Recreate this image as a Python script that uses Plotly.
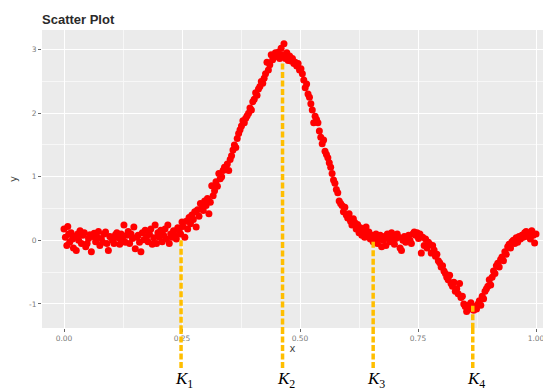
import plotly.graph_objects as go

# ---- data ----
x_vals = [
    0.000, 0.003, 0.006, 0.008, 0.010, 0.012, 0.015, 0.018, 0.020, 0.023,
    0.026, 0.029, 0.031, 0.034, 0.037, 0.040, 0.043, 0.046, 0.049, 0.052,
    0.055, 0.058, 0.061, 0.064, 0.067, 0.070, 0.073, 0.076, 0.079, 0.082,
    0.085, 0.088, 0.091, 0.094, 0.097, 0.100, 0.103, 0.106, 0.109, 0.112,
    0.115, 0.118, 0.121, 0.124, 0.127, 0.130, 0.133, 0.136, 0.139, 0.142,
    0.145, 0.148, 0.151, 0.154, 0.157, 0.160, 0.163, 0.166, 0.169, 0.172,
    0.175, 0.178, 0.181, 0.184, 0.187, 0.190, 0.193, 0.196, 0.199, 0.202,
    0.205, 0.208, 0.211, 0.214, 0.217, 0.220, 0.223, 0.226, 0.229, 0.232,
    0.235, 0.238, 0.241, 0.244, 0.247, 0.250,
    0.252, 0.256, 0.259, 0.262, 0.265, 0.268, 0.271, 0.274, 0.277, 0.280,
    0.283, 0.286, 0.289, 0.292, 0.295, 0.298, 0.301, 0.304, 0.307, 0.310,
    0.313, 0.316, 0.319, 0.322, 0.325, 0.328, 0.331, 0.334, 0.337, 0.340,
    0.343, 0.346, 0.349, 0.352, 0.355, 0.358, 0.361, 0.364, 0.367, 0.370,
    0.373, 0.376, 0.379, 0.382, 0.385, 0.388, 0.391, 0.394, 0.397, 0.400,
    0.403, 0.406, 0.409, 0.412, 0.415, 0.418, 0.421, 0.424, 0.427, 0.430,
    0.433, 0.436, 0.439, 0.442, 0.445, 0.448, 0.451, 0.454, 0.457, 0.460,
    0.463, 0.466, 0.469, 0.472, 0.475, 0.478, 0.481, 0.484, 0.487, 0.490,
    0.493, 0.496, 0.499, 0.502, 0.505, 0.508, 0.511, 0.514, 0.517, 0.520,
    0.523, 0.526, 0.529, 0.532, 0.535, 0.538, 0.541, 0.544, 0.547, 0.550,
    0.553, 0.556, 0.559, 0.562, 0.565, 0.568, 0.571, 0.574, 0.577, 0.580,
    0.583, 0.586, 0.589, 0.592, 0.595, 0.598, 0.601, 0.604, 0.607, 0.610,
    0.613, 0.616, 0.619, 0.622, 0.625, 0.628, 0.631, 0.634, 0.637, 0.640,
    0.643, 0.646, 0.649, 0.652, 0.655, 0.658,
    0.661, 0.664, 0.667, 0.670, 0.673, 0.676, 0.679, 0.682, 0.685, 0.688,
    0.691, 0.694, 0.697, 0.700, 0.703, 0.706, 0.709, 0.712, 0.715, 0.718,
    0.721, 0.724, 0.727, 0.730, 0.733, 0.736, 0.739, 0.742, 0.745, 0.748,
    0.751, 0.754, 0.757, 0.760, 0.763, 0.766, 0.769, 0.772, 0.775, 0.778,
    0.781, 0.784, 0.787, 0.790, 0.793, 0.796, 0.799, 0.802, 0.805, 0.808,
    0.811, 0.814, 0.817, 0.820, 0.823, 0.826, 0.829, 0.832, 0.835, 0.838,
    0.841, 0.844, 0.847, 0.850, 0.853, 0.856, 0.859, 0.862, 0.865, 0.868,
    0.871, 0.874, 0.877, 0.880, 0.883, 0.886, 0.889, 0.892, 0.895, 0.898,
    0.901, 0.904, 0.907, 0.910, 0.913, 0.916, 0.919, 0.922, 0.925, 0.928,
    0.931, 0.934, 0.937, 0.940, 0.943, 0.946, 0.949, 0.952, 0.955, 0.958,
    0.961, 0.964, 0.967, 0.970, 0.973, 0.976, 0.979, 0.982, 0.985, 0.988,
    0.991, 0.994, 0.997, 1.000,
]
y_vals = [
    0.18, 0.05, -0.08, 0.22, 0.10, -0.03, 0.12, 0.02, -0.12, 0.06,
    -0.16, 0.10, 0.00, 0.15, -0.05, 0.08, 0.12, -0.10, -0.05, 0.03,
    0.09, -0.18, 0.06, 0.11, -0.02, 0.05, 0.14, -0.08, 0.03, -0.03,
    0.10, 0.13, -0.05, -0.16, 0.06, 0.05, 0.00, -0.05, 0.09, 0.12,
    0.04, -0.06, 0.10, 0.02, 0.24, -0.03, 0.08, 0.14, -0.05, 0.10,
    0.03, 0.21, -0.13, 0.05, 0.08, -0.03, -0.18, 0.12, 0.01, 0.16,
    0.06, -0.02, 0.10, 0.18, -0.06, 0.04, 0.24, -0.05, 0.12, 0.05,
    0.16, -0.02, 0.08, 0.18, 0.02, 0.24, -0.05, 0.10, 0.05, 0.15,
    0.08, 0.02, 0.20, 0.16, 0.10, 0.29,
    0.22, 0.05, 0.30, 0.18, 0.36, 0.26, 0.40, 0.33, 0.45, 0.21,
    0.48, 0.38, 0.58, 0.50, 0.47, 0.62, 0.55, 0.66, 0.42, 0.60,
    0.86, 0.70, 0.78, 0.92, 0.85, 1.05, 0.97, 1.00, 1.10, 1.15,
    1.12, 1.20, 1.10, 1.27, 1.33, 1.42, 1.50, 1.46, 1.60, 1.68,
    1.74, 1.80, 1.88, 1.85, 1.92, 1.96, 2.00, 2.08, 2.05, 2.18,
    2.22, 2.32, 2.28, 2.38, 2.42, 2.50, 2.47, 2.55, 2.62, 2.80,
    2.68, 2.76, 2.92, 2.84, 2.88, 2.95, 2.90, 2.96, 2.86, 3.02,
    2.92, 3.09, 2.86, 2.95, 2.83, 2.90, 2.82, 2.86, 2.78, 2.80,
    2.74, 2.78, 2.68, 2.70, 2.62, 2.52, 2.40, 2.46, 2.30, 2.25,
    2.15, 2.05, 1.85, 1.95, 1.90, 1.85, 1.72, 1.62, 1.52, 1.58,
    1.40, 1.35, 1.30, 1.22, 1.15, 1.05, 0.95, 0.90, 0.80, 0.75,
    0.62, 0.58, 0.55, 0.45, 0.52, 0.40, 0.35, 0.42, 0.30, 0.24,
    0.34, 0.28, 0.18, 0.25, 0.12, 0.20, 0.08, 0.15, 0.05, 0.21,
    0.10, 0.13, 0.02, 0.08, -0.02, 0.05,
    0.10, -0.05, 0.02, 0.08, -0.10, 0.00, 0.06, -0.08, 0.10, 0.02,
    -0.02, 0.12, 0.05, -0.06, 0.03, 0.10, 0.05, -0.12, -0.16, 0.00,
    0.06, -0.03, 0.04, 0.08, 0.00, -0.05, 0.10, 0.13, 0.08, 0.12,
    0.03, 0.10, -0.20, 0.05, -0.08, 0.02, -0.12, -0.03, -0.06, -0.20,
    -0.08, -0.15, -0.25, -0.22, -0.32, -0.35, -0.42, -0.40, -0.48, -0.52,
    -0.58, -0.62, -0.55, -0.68, -0.72, -0.66, -0.80, -0.76, -0.84, -0.68,
    -0.90, -0.88, -1.00, -1.04, -1.12, -1.02, -1.08, -0.98, -1.06, -1.10,
    -1.04, -1.08, -1.00, -0.95, -1.02, -0.88, -0.92, -0.80, -0.76, -0.72,
    -0.62, -0.70, -0.58, -0.48, -0.52, -0.40, -0.36, -0.42, -0.30, -0.26,
    -0.32, -0.18, -0.22, -0.10, -0.06, -0.12, -0.02, 0.00, -0.05, 0.04,
    -0.03, 0.06, 0.02, 0.08, 0.05, 0.12, 0.14, 0.06, 0.10, 0.02,
    0.15, 0.08, -0.04, 0.10,
]

knot_x = [0.248, 0.463, 0.655, 0.866]
knot_top = [0.0, 2.78, -0.02, -1.03]
knot_labels = ["<i>K</i><sub>1</sub>", "<i>K</i><sub>2</sub>",
               "<i>K</i><sub>3</sub>", "<i>K</i><sub>4</sub>"]

x_ticks = [0.0, 0.25, 0.5, 0.75, 1.0]
x_tick_text = ["0.00", "0.25", "0.50", "0.75", "1.00"]
y_ticks = [-1, 0, 1, 2, 3]
y_tick_text = ["-1", "0", "1", "2", "3"]

x_range = [-0.0466, 1.0148]
y_range = [-1.378, 3.308]

n = min(len(x_vals), len(y_vals))

fig = go.Figure()
fig.add_trace(go.Scatter(
    x=x_vals[:n], y=y_vals[:n], mode="markers",
    marker=dict(color="#FF0000", size=7, line=dict(width=0)),
    showlegend=False, hoverinfo="skip",
))

gold = "#FFBE00"
dash_style = dict(color=gold, width=3.5, dash="6px,2.5px")
for kx, kt, lab in zip(knot_x, knot_top, knot_labels):
    # inside the panel (data coords)
    fig.add_shape(type="line", xref="x", yref="y", x0=kx, x1=kx,
                  y0=kt, y1=y_range[0], line=dash_style, layer="above")
    # continuation below the panel
    fig.add_shape(type="line", xref="x", yref="paper", x0=kx, x1=kx,
                  y0=0, y1=-0.135, line=dash_style, layer="above")
    fig.add_annotation(x=kx, xref="x", y=-0.218, yref="paper", yanchor="bottom",
                       xanchor="center", xshift=3, text=lab, showarrow=False,
                       font=dict(family="Liberation Serif, DejaVu Serif, serif",
                                 size=17, color="#000000"))

tick_font = dict(family="DejaVu Sans, Liberation Sans, sans-serif", size=7.5, color="#7A7A7A")
axis_title_font = dict(family="DejaVu Sans, Liberation Sans, sans-serif", size=10, color="#444444")

fig.update_layout(
    width=543, height=392,
    margin=dict(l=42, r=0, t=30, b=64),
    paper_bgcolor="white", plot_bgcolor="#EBEBEB",
    title=dict(text="<b>Scatter Plot</b>", x=0, xref="paper", xanchor="left",
               y=0.951, yref="container", yanchor="middle",
               font=dict(family="Liberation Sans, Arial, sans-serif", size=13, color="#2A2A2A")),
    xaxis=dict(range=x_range, tickvals=x_ticks, ticktext=x_tick_text, automargin=False,
               ticklabeloverflow="allow",
               showgrid=True, gridcolor="white", gridwidth=1.1, zeroline=False,
               ticks="outside", ticklen=3, tickwidth=0.8, tickcolor="#666666",
               tickfont=tick_font, showline=False,
               minor=dict(dtick=0.125, tick0=0, showgrid=True, gridcolor="#F7F7F7", gridwidth=0.6, ticks=""),
               title=dict(text="x", standoff=1, font=axis_title_font)),
    yaxis=dict(range=y_range, tickvals=y_ticks, ticktext=y_tick_text, automargin=False,
               showgrid=True, gridcolor="white", gridwidth=1.1, zeroline=False,
               ticks="outside", ticklen=3, tickwidth=0.8, tickcolor="#666666",
               tickfont=tick_font, showline=False,
               minor=dict(dtick=0.5, tick0=0, showgrid=True, gridcolor="#F7F7F7", gridwidth=0.6, ticks=""),
               title=dict(text="y", standoff=9, font=axis_title_font)),
)

fig.write_html("out.html", config={"displayModeBar": False},
               post_script="document.body.style.margin='0';document.body.style.padding='0';"
                           "document.documentElement.style.overflow='hidden';")
